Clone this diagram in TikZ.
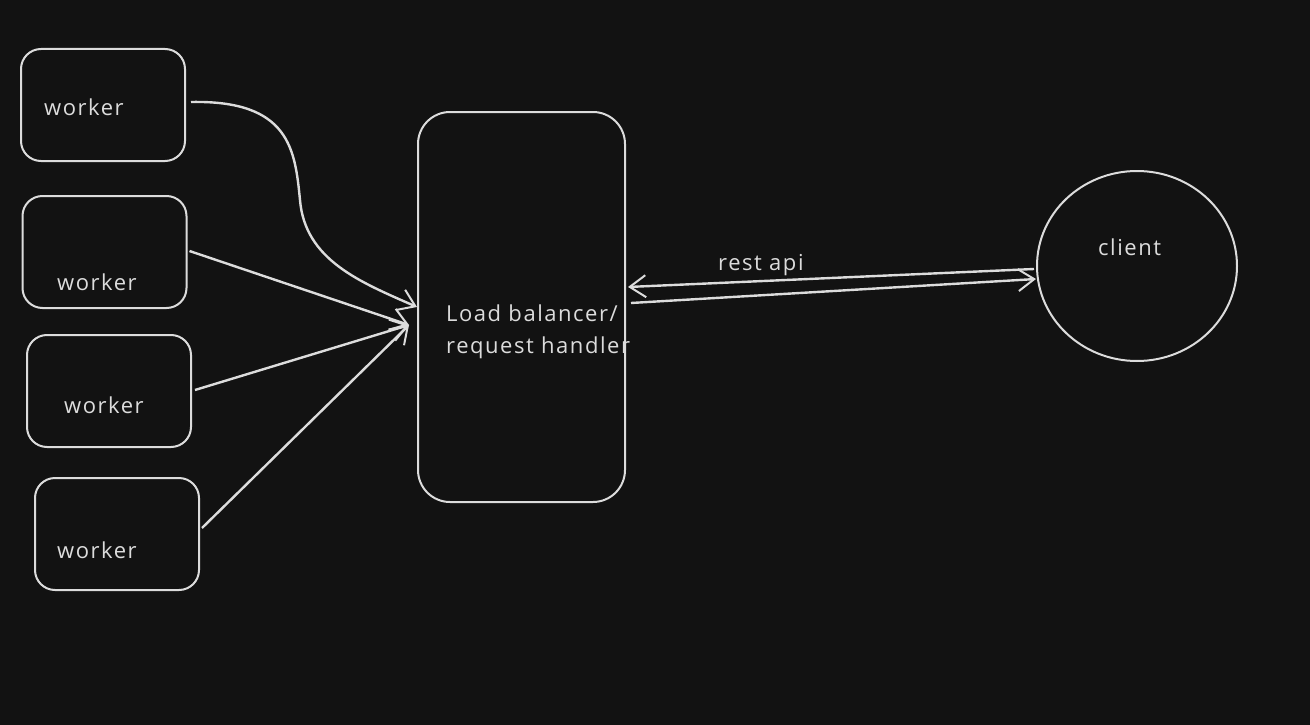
\documentclass[tikz,border=0pt]{standalone}
\usepackage{fontspec}
\setmainfont{Open Sans}[LetterSpace=7]
\usetikzlibrary{arrows.meta,calc,shapes.geometric}
\definecolor{bg}{HTML}{121212}
\definecolor{ink}{HTML}{DCDCDC}
\tikzset{
  box/.style={draw=ink,line width=2pt,rounded corners=20pt,minimum width=164pt,minimum height=112pt,inner sep=0pt},
  lbbox/.style={draw=ink,line width=2pt,rounded corners=32pt,minimum width=207pt,minimum height=390pt,inner sep=0pt},
  circ/.style={draw=ink,line width=2pt,ellipse,minimum width=200pt,minimum height=190pt,inner sep=0pt},
  txt/.style={text=ink,font=\fontsize{22}{30}\selectfont,inner sep=0pt,anchor=base west},
  arr/.style={draw=ink,line width=2.4pt,-{Straight Barb[length=16pt,width=22pt,line width=2pt]}},
}
\begin{document}
\begin{tikzpicture}[x=1pt,y=-1pt]
\fill[bg] (0,0) rectangle (1310,725);
\useasboundingbox (0,0) rectangle (1310,725);
\node[box] (w1) at (103,105) {};
\node[box] (w2) at (104.5,252) {};
\node[box] (w3) at (109,391) {};
\node[box] (w4) at (117,534) {};
\node[lbbox] (lb) at (521.5,307) {};
\node[circ] (cl) at (1137,266) {};
\node[txt] (t1) at (44,115) {worker};
\node[txt] (t2) at (57,290) {worker};
\node[txt] (t3) at (64,413) {worker};
\node[txt] (t4) at (57,558) {worker};
\node[txt] (tl1) at (446,321) {Load balancer/};
\node[txt] (tl2) at (446,353) {request handler};
\node[txt] (tc) at (1098,255) {client};
\node[txt] (tr) at (718,270) {rest api};
\coordinate (in2) at (409,325);
\draw[arr] ($(w1.east)+(5,-3)$) .. controls (290,100) and (295,150) .. (300,200) .. controls (305,260) and (360,282) .. (lb.west);
\draw[arr] ($(w2.east)+(2,-1)$) -- (in2);
\draw[arr] ($(w3.east)+(3,-1)$) -- (in2);
\draw[arr] ($(w4.east)+(2,-6)$) -- (in2);
\draw[arr] ($(cl.west)+(-2,3)$) -- ($(lb.east)+(2,-20)$);
\draw[arr] ($(lb.east)+(5,-4)$) -- ($(cl.west)+(0,13)$);
\end{tikzpicture}
\end{document}
